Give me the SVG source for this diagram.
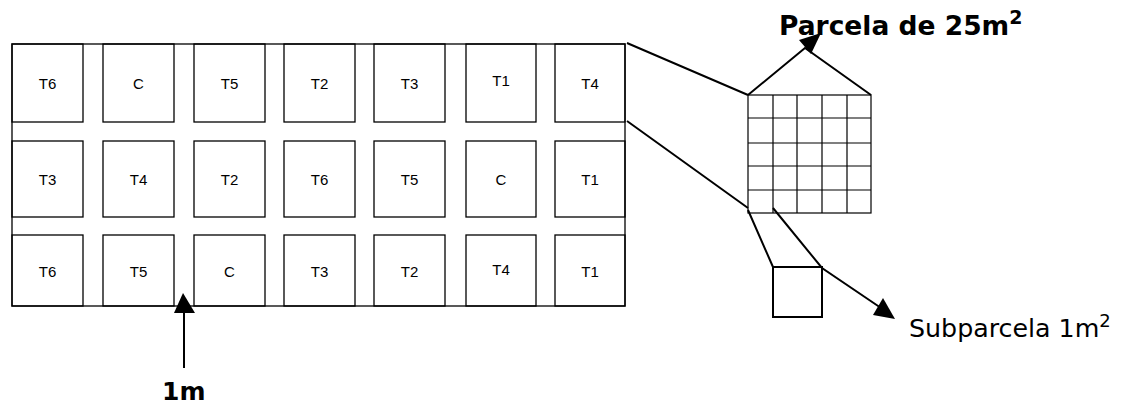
<svg xmlns="http://www.w3.org/2000/svg" width="1127" height="404" viewBox="0 0 1127 404">
<style>
.box{fill:none;stroke:#000;stroke-width:1.3}
.lbl{font-family:"Liberation Sans",Arial,sans-serif;font-size:15px;fill:#000;text-anchor:middle}
.con{fill:none;stroke:#000;stroke-width:2}
.grid{fill:none;stroke:#000;stroke-width:1.2}
.head{fill:#000}
.title{font-family:"DejaVu Sans",Verdana,sans-serif;fill:#000}
</style>
<rect width="1127" height="404" fill="#fff"/>
<g id="field">
<rect class="box" x="12" y="44" width="613" height="262"/>
</g>
<g id="row1">
<rect class="box" x="12" y="44" width="71" height="78"/><text class="lbl" x="47.5" y="89">T6</text>
<rect class="box" x="103" y="44" width="71" height="78"/><text class="lbl" x="138.5" y="89">C</text>
<rect class="box" x="194" y="44" width="71" height="78"/><text class="lbl" x="229.5" y="89">T5</text>
<rect class="box" x="284" y="44" width="71" height="78"/><text class="lbl" x="319.5" y="89">T2</text>
<rect class="box" x="374" y="44" width="71" height="78"/><text class="lbl" x="409.5" y="89">T3</text>
<rect class="box" x="466" y="44" width="70" height="78"/><text class="lbl" x="501" y="86">T1</text>
<rect class="box" x="555" y="44" width="70" height="78"/><text class="lbl" x="590" y="89">T4</text>
</g>
<g id="row2">
<rect class="box" x="12" y="141" width="71" height="76"/><text class="lbl" x="47.5" y="185">T3</text>
<rect class="box" x="103" y="141" width="71" height="76"/><text class="lbl" x="138.5" y="185">T4</text>
<rect class="box" x="194" y="141" width="71" height="76"/><text class="lbl" x="229.5" y="185">T2</text>
<rect class="box" x="284" y="141" width="71" height="76"/><text class="lbl" x="319.5" y="185">T6</text>
<rect class="box" x="374" y="141" width="71" height="76"/><text class="lbl" x="409.5" y="185">T5</text>
<rect class="box" x="466" y="141" width="70" height="76"/><text class="lbl" x="501" y="185">C</text>
<rect class="box" x="555" y="141" width="70" height="76"/><text class="lbl" x="590" y="185">T1</text>
</g>
<g id="row3">
<rect class="box" x="12" y="235" width="71" height="71"/><text class="lbl" x="47.5" y="277">T6</text>
<rect class="box" x="103" y="235" width="71" height="71"/><text class="lbl" x="138.5" y="277">T5</text>
<rect class="box" x="194" y="235" width="71" height="71"/><text class="lbl" x="229.5" y="277">C</text>
<rect class="box" x="284" y="235" width="71" height="71"/><text class="lbl" x="319.5" y="277">T3</text>
<rect class="box" x="374" y="235" width="71" height="71"/><text class="lbl" x="409.5" y="277">T2</text>
<rect class="box" x="466" y="235" width="70" height="71"/><text class="lbl" x="501" y="275">T4</text>
<rect class="box" x="555" y="235" width="70" height="71"/><text class="lbl" x="590" y="277">T1</text>
</g>
<g id="parcela-grid">
<rect class="grid" x="748" y="95" width="123" height="118"/>
<path class="grid" d="M773 95V213M797 95V213M822 95V213M847 95V213M748 118H871M748 143H871M748 166H871M748 190H871"/>
</g>
<g id="subparcela">
<rect class="con" x="773" y="267" width="49" height="50"/>
</g>
<g id="connectors">
<path class="con" d="M627 43L748 95M627 121L748 208"/>
<path class="con" d="M748 95L805 48L871 95"/>
<path class="con" d="M748 210L773 267M773 208L822 268L884 310"/>
<path class="con" d="M184 368V310"/>
<polygon class="head" points="799,40 821,33 811,54"/>
<polygon class="head" points="883,298 873,315 895,319"/>
<polygon class="head" points="183,293 174,313 195,313"/>
</g>
<g id="labels">
<text class="title" x="779" y="35" font-size="26.5" font-weight="bold">Parcela de 25m<tspan font-size="19" dy="-11">2</tspan></text>
<text class="title" x="909" y="337" font-size="25.3">Subparcela 1m<tspan font-size="18" dy="-10">2</tspan></text>
<text class="title" x="162" y="400" font-size="25" font-weight="bold">1m</text>
</g>
</svg>
